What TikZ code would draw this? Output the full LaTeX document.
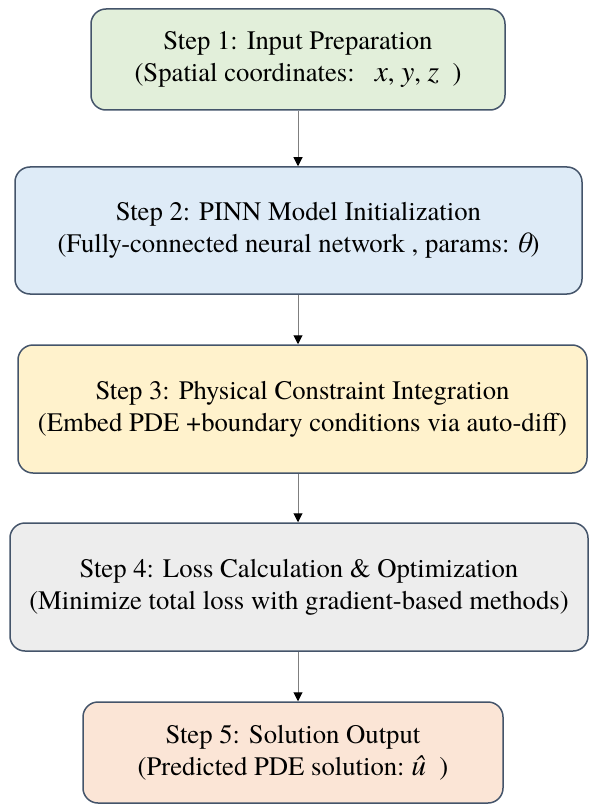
\documentclass[tikz,border=0pt]{standalone}
\usepackage{fontspec}
\setmainfont{TeX Gyre Termes}
\usetikzlibrary{arrows.meta}

\definecolor{edgeblue}{HTML}{44546A}
\definecolor{fillgreen}{HTML}{E2EFDA}
\definecolor{fillblue}{HTML}{DEEBF7}
\definecolor{fillyellow}{HTML}{FFF2CC}
\definecolor{fillgray}{HTML}{EDEDED}
\definecolor{fillpeach}{HTML}{FBE5D6}
\definecolor{linkgray}{HTML}{7F7F7F}

% italic symbols set a little larger than the running text
\newcommand{\sym}[1]{{\fontsize{29.5}{32}\selectfont\itshape #1}}

\tikzset{
  stepbox/.style={draw=edgeblue, line width=1.5pt, rounded corners=15pt,
    align=center, inner sep=0pt,
    font=\fontsize{26.7}{32}\selectfont},
  link/.style={draw=linkgray, line width=1pt,
    -{Triangle[length=9pt,width=9pt,fill=black,color=black]}}
}

\begin{document}
\begin{tikzpicture}[x=1pt,y=1pt]
  \useasboundingbox (0,0) rectangle (589,-805);

  \node[stepbox, fill=fillgreen, minimum width=414pt, minimum height=101pt]
    (s1) at (298,-59.5)
    {Step 1: Input Preparation\\(Spatial coordinates:\ \ \ \sym{x}, \sym{y}, \sym{z}\ \ )};

  \node[stepbox, fill=fillblue, minimum width=567pt, minimum height=127pt]
    (s2) at (298.5,-230.5)
    {Step 2: PINN Model Initialization\\(Fully-connected neural network , params:\ \sym{θ})};

  \node[stepbox, fill=fillyellow, minimum width=569pt, minimum height=128pt]
    (s3) at (302.5,-409)
    {Step 3: Physical Constraint Integration\\(Embed PDE +boundary conditions via auto-diff)};

  \node[stepbox, fill=fillgray, minimum width=578pt, minimum height=128pt]
    (s4) at (299,-587)
    {Step 4: Loss Calculation \& Optimization\\(Minimize total loss with gradient-based methods)};

  \node[stepbox, fill=fillpeach, minimum width=420pt, minimum height=101pt]
    (s5) at (293,-752.5)
    {Step 5: Solution Output\\(Predicted PDE solution:\ \sym{û}\ \ )};

  % vertical connectors along the common axis
  \coordinate (axis) at (298,0);
  \draw[link] (s1.south -| axis) -- (s2.north -| axis);
  \draw[link] (s2.south -| axis) -- (s3.north -| axis);
  \draw[link] (s3.south -| axis) -- (s4.north -| axis);
  \draw[link] (s4.south -| axis) -- (s5.north -| axis);
\end{tikzpicture}
\end{document}
